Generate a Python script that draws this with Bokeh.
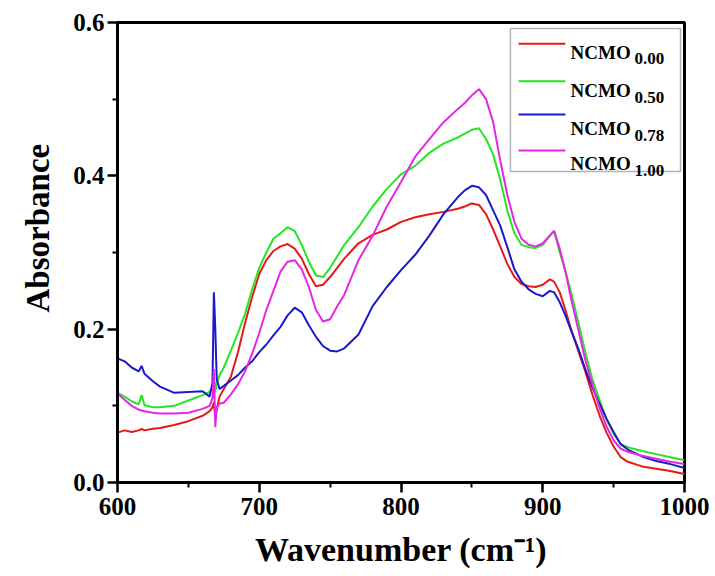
from bokeh.plotting import figure
from bokeh.models import Range1d, FixedTicker, Label, BoxAnnotation, Title
from bokeh.embed import file_html
from bokeh.resources import INLINE

wavenumber = [600, 605, 610, 615, 617, 619, 625, 630, 640, 650, 660, 665, 667, 668, 669, 670, 672, 675,
              680, 685, 690, 695, 700, 705, 710, 715, 720, 725, 730, 735, 740, 745, 750, 755, 760, 770,
              780, 790, 800, 810, 820, 830, 840, 845, 850, 855, 860, 865, 870, 875, 880, 885, 890, 895,
              900, 905, 908, 912, 916, 920, 925, 930, 935, 940, 945, 950, 955, 960, 970, 980, 990, 1000]

ncmo_000 = [0.065, 0.068, 0.066, 0.068, 0.070, 0.068, 0.070, 0.071, 0.075, 0.080, 0.087, 0.093, 0.098, 0.105,
            0.085, 0.095, 0.112, 0.122, 0.138, 0.170, 0.208, 0.242, 0.272, 0.290, 0.302, 0.308, 0.311, 0.305,
            0.292, 0.272, 0.256, 0.258, 0.268, 0.280, 0.292, 0.312, 0.323, 0.330, 0.340, 0.346, 0.350, 0.353,
            0.357, 0.360, 0.364, 0.362, 0.350, 0.330, 0.308, 0.285, 0.268, 0.259, 0.256, 0.255, 0.258, 0.265,
            0.262, 0.248, 0.225, 0.200, 0.172, 0.145, 0.115, 0.088, 0.065, 0.047, 0.033, 0.027, 0.021, 0.018,
            0.015, 0.011]

ncmo_050 = [0.117, 0.112, 0.106, 0.102, 0.114, 0.101, 0.098, 0.098, 0.100, 0.107, 0.114, 0.118, 0.125, 0.140,
            0.118, 0.130, 0.140, 0.150, 0.172, 0.195, 0.220, 0.252, 0.280, 0.300, 0.318, 0.325, 0.333, 0.328,
            0.310, 0.288, 0.270, 0.268, 0.280, 0.295, 0.310, 0.333, 0.360, 0.383, 0.402, 0.413, 0.430, 0.442,
            0.450, 0.455, 0.460, 0.462, 0.448, 0.428, 0.395, 0.355, 0.325, 0.310, 0.307, 0.306, 0.310, 0.322,
            0.328, 0.300, 0.276, 0.248, 0.210, 0.170, 0.135, 0.108, 0.083, 0.063, 0.050, 0.046, 0.041, 0.037,
            0.033, 0.029]

ncmo_078 = [0.162, 0.158, 0.150, 0.145, 0.152, 0.142, 0.132, 0.125, 0.117, 0.118, 0.119, 0.112, 0.130, 0.248,
            0.200, 0.135, 0.122, 0.126, 0.133, 0.140, 0.150, 0.158, 0.170, 0.180, 0.192, 0.203, 0.218, 0.228,
            0.222, 0.205, 0.190, 0.178, 0.172, 0.171, 0.175, 0.193, 0.230, 0.255, 0.277, 0.297, 0.322, 0.350,
            0.372, 0.381, 0.387, 0.385, 0.375, 0.355, 0.335, 0.307, 0.278, 0.262, 0.252, 0.246, 0.243, 0.250,
            0.248, 0.235, 0.218, 0.198, 0.175, 0.148, 0.124, 0.103, 0.083, 0.066, 0.050, 0.043, 0.034, 0.028,
            0.024, 0.019]

ncmo_100 = [0.116, 0.108, 0.100, 0.095, 0.094, 0.093, 0.091, 0.090, 0.090, 0.091, 0.096, 0.100, 0.110, 0.148,
            0.072, 0.098, 0.103, 0.104, 0.115, 0.128, 0.145, 0.168, 0.195, 0.225, 0.250, 0.275, 0.288, 0.290,
            0.278, 0.255, 0.225, 0.210, 0.213, 0.230, 0.245, 0.290, 0.322, 0.360, 0.392, 0.425, 0.448, 0.470,
            0.487, 0.495, 0.505, 0.513, 0.500, 0.470, 0.420, 0.375, 0.340, 0.318, 0.310, 0.308, 0.312, 0.322,
            0.328, 0.305, 0.275, 0.240, 0.200, 0.160, 0.128, 0.098, 0.073, 0.055, 0.044, 0.040, 0.035, 0.031,
            0.027, 0.024]

series_names = ["0.00", "0.50", "0.78", "1.00"]
series_values = [ncmo_000, ncmo_050, ncmo_078, ncmo_100]
series_colors = ["#e41a1a", "#22e622", "#1a1ac8", "#e626e6"]

y_ticks = [0.0, 0.2, 0.4, 0.6]
y_minor = [0.1, 0.3, 0.5]
x_ticks = [600, 700, 800, 900, 1000]
x_minor = [650, 750, 850, 950]

FONT = "Liberation Serif"

p = figure(width=715, height=576, output_backend="svg", toolbar_location=None,
           x_range=Range1d(600, 1000), y_range=Range1d(0, 0.6),
           min_border_left=117, min_border_right=31, min_border_top=22, min_border_bottom=94)
p.grid.visible = False
p.background_fill_color = "white"
p.border_fill_color = "white"
p.outline_line_color = "black"
p.outline_line_width = 3

for vals, col in zip(series_values, series_colors):
    p.line(wavenumber, vals, line_color=col, line_width=2)

p.xaxis.ticker = FixedTicker(ticks=x_ticks, minor_ticks=x_minor)
p.yaxis.ticker = FixedTicker(ticks=y_ticks, minor_ticks=y_minor)
p.yaxis.major_label_overrides = {v: f"{v:.1f}" for v in y_ticks}
for ax in (p.xaxis[0], p.yaxis[0]):
    ax.axis_line_width = 3
    ax.axis_line_color = "black"
    ax.major_tick_line_width = 2.5
    ax.minor_tick_line_width = 2
    ax.major_tick_in = 0
    ax.minor_tick_in = 0
    ax.major_tick_out = 10
    ax.minor_tick_out = 5
    ax.major_label_text_font = FONT
    ax.major_label_text_font_style = "bold"
    ax.major_label_text_font_size = "25px"
    ax.major_label_text_color = "black"
    ax.axis_label_text_font = FONT
    ax.axis_label_text_font_style = "bold"
    ax.axis_label_text_color = "black"
p.xaxis.major_label_standoff = 5
p.yaxis.major_label_standoff = 3

p.xaxis.axis_label = "Wavenumber (cm\u207b\u00b9)"
p.xaxis.axis_label_text_font_size = "34px"
p.xaxis.axis_label_standoff = 13

ytitle = Title(text="Absorbance", align="left", offset=170, standoff=30,
               text_font=FONT, text_font_style="bold", text_font_size="33px", text_color="black")
p.add_layout(ytitle, "left")

# legend (drawn by hand for the subscripts)
p.add_layout(BoxAnnotation(left=877.2, right=997.2, bottom=0.4056, top=0.5922, level="underlay",
                           fill_color="white", fill_alpha=1.0, line_color="black", line_width=1.5))
row_line_y = [0.5722, 0.5234, 0.4800, 0.4330]
row_text_y = [0.5613, 0.5113, 0.4613, 0.4157]
for name, col, ly, ty in zip(series_names, series_colors, row_line_y, row_text_y):
    p.line([882.9, 916.0], [ly, ly], line_color=col, line_width=2)
    p.add_layout(Label(x=919.6, y=ty, text="NCMO", text_align="left", text_baseline="alphabetic",
                       text_font=FONT, text_font_style="bold", text_font_size="19px",
                       text_color="black"))
    p.add_layout(Label(x=964.8, y=ty - 0.0086, text=name, text_align="left",
                       text_baseline="alphabetic", text_font=FONT, text_font_style="bold",
                       text_font_size="17px", text_color="black"))

open("out.html", "w").write(file_html(p, INLINE))
